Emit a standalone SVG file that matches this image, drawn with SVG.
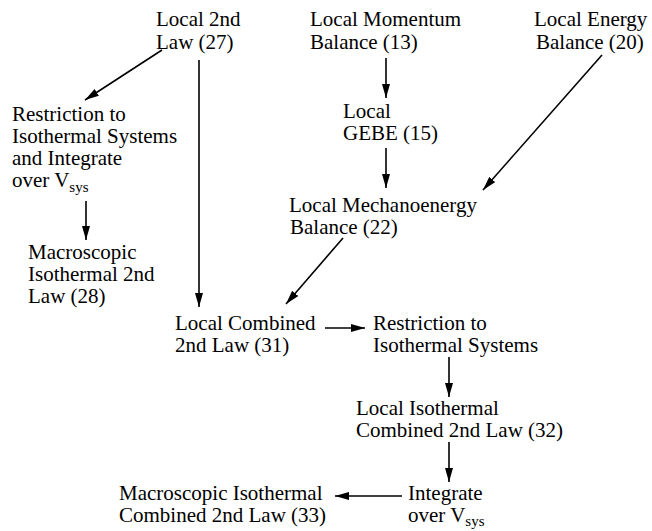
<svg xmlns="http://www.w3.org/2000/svg" width="652" height="531" viewBox="0 0 652 531">
<style>
text{font-family:'Liberation Serif','Times New Roman',Times,'Noto Serif','DejaVu Serif',serif;font-size:21px;fill:#000}
.sub{font-size:15px}
.c line{stroke:#000;stroke-width:1.6;marker-end:url(#ah)}
</style>
<defs>
<marker id="ah" viewBox="0 0 14 8" refX="14" refY="4" markerWidth="14" markerHeight="8" markerUnits="userSpaceOnUse" orient="auto">
<path d="M0,0 L14,4 L0,8 z" fill="#000"/>
</marker>
</defs>
<rect width="652" height="531" fill="#fff"/>
<g id="n1"><text x="156" y="26">Local 2nd</text><text x="156" y="49">Law (27)</text></g>
<g id="n2"><text x="310" y="26">Local Momentum</text><text x="310" y="49">Balance (13)</text></g>
<g id="n3"><text x="534" y="26">Local Energy</text><text x="536" y="49">Balance (20)</text></g>
<g id="n4"><text x="12" y="121">Restriction to</text><text x="12" y="143">Isothermal Systems</text><text x="12" y="165">and Integrate</text><text x="12" y="187">over V<tspan class="sub" dy="5">sys</tspan></text></g>
<g id="n5"><text x="343" y="118">Local</text><text x="343" y="140">GEBE (15)</text></g>
<g id="n6"><text x="289" y="212">Local Mechanoenergy</text><text x="290" y="234">Balance (22)</text></g>
<g id="n7"><text x="28" y="259">Macroscopic</text><text x="28" y="281">Isothermal 2nd</text><text x="28" y="303">Law (28)</text></g>
<g id="n8"><text x="175" y="330">Local Combined</text><text x="175" y="352">2nd Law (31)</text></g>
<g id="n9"><text x="373" y="330">Restriction to</text><text x="373" y="352">Isothermal Systems</text></g>
<g id="n10"><text x="356" y="415">Local Isothermal</text><text x="356" y="437">Combined 2nd Law (32)</text></g>
<g id="n11"><text x="408" y="500">Integrate</text><text x="408" y="522">over V<tspan class="sub" dy="4">sys</tspan></text></g>
<g id="n12"><text x="119" y="500">Macroscopic Isothermal</text><text x="119" y="522">Combined 2nd Law (33)</text></g>
<g class="c" id="connectors">
<line x1="162" y1="50" x2="85" y2="100"/>
<line x1="199" y1="60" x2="199" y2="307"/>
<line x1="386" y1="58" x2="386" y2="98"/>
<line x1="386" y1="148" x2="386" y2="188"/>
<line x1="602" y1="55" x2="483" y2="190"/>
<line x1="86" y1="201" x2="86" y2="240"/>
<line x1="343" y1="238" x2="286" y2="304"/>
<line x1="325" y1="328" x2="365" y2="328"/>
<line x1="449" y1="357" x2="449" y2="397"/>
<line x1="449" y1="442" x2="449" y2="482"/>
<line x1="402" y1="496" x2="335" y2="496"/>
</g>
</svg>
